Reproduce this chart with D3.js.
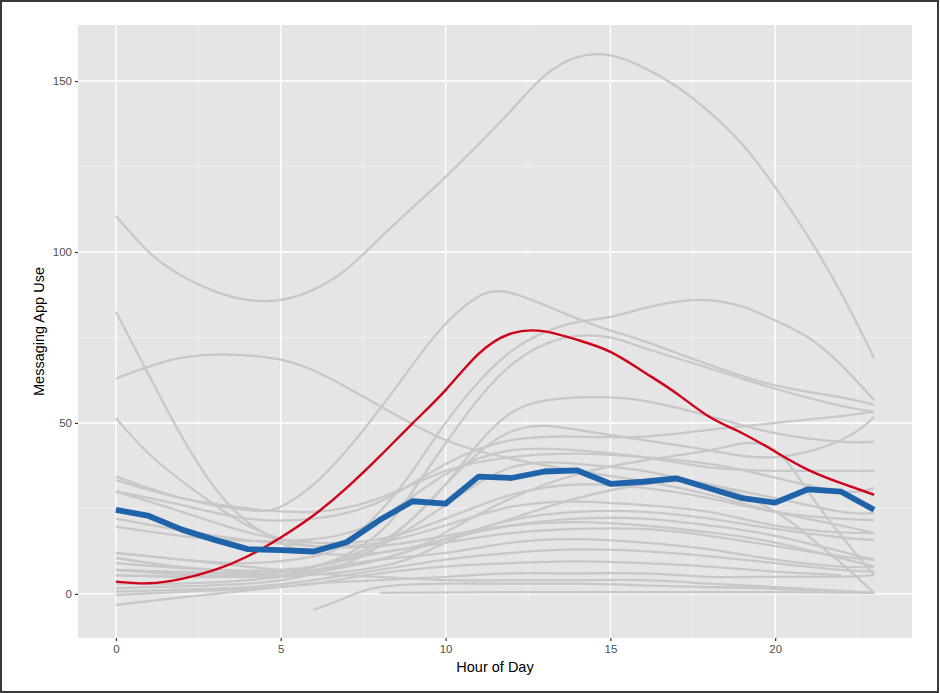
<!DOCTYPE html>
<html>
<head>
<meta charset="utf-8">
<script src="https://cdn.jsdelivr.net/npm/d3@7"></script>
<style>
  html, body { margin: 0; padding: 0; background: #fff; }
  svg { display: block; }
</style>
</head>
<body>
<svg id="chart" width="940" height="693"></svg>
<script>
// ---------------- data ----------------
const hours = d3.range(0, 24);
const meanUse = [24.6, 22.8, 18.8, 15.8, 13.1, 12.8, 12.4, 15.1, 21.6, 27.1, 26.4, 34.3,
                 33.9, 35.8, 36.1, 32.2, 32.8, 33.8, 30.9, 28.0, 26.7, 30.6, 29.9, 24.6];
const highlightUse = [3.6, 3.1, 4.4, 7.0, 11.0, 16.5, 23.0, 31.0, 40.2, 49.9, 59.6, 70.2,
                      76.2, 76.8, 74.3, 70.8, 65.0, 58.7, 51.8, 47.0, 41.6, 36.3, 32.4, 29.0];
// individual smoothed curves: [hour, value] knots
const individualUse = [
  [[0,110.5],[1,100],[2,93],[3,88.5],[4,86],[5,86],[6,89],[7,95],[8,104],[9,113],[10,122],[11,131.5],[12,141.5],[13,151.5],[14,157],[15,157.5],[16,154],[17,148.5],[18,141],[19,131.5],[20,119],[21,104.5],[22,88],[23,69]],
  [[0,82.5],[1,64],[2,46],[3,31],[4,21],[5,15],[6,12],[8,12],[10,16],[12,20],[14,22],[16,22],[18,20],[20,17],[23,10]],
  [[0,63],[1.5,68],[3,70],[5,68.5],[6.5,63],[8,55],[10,45],[12,39.5],[14,36],[16,33],[18,29],[20,24],[22,20],[23,17.8]],
  [[0,51.4],[1,41],[2,33],[3,26],[4,20],[5,16],[6,14],[8,14],[10,17],[12,20],[14,21],[16,20],[18,18],[20,15],[23,8]],
  [[0,34.3],[2,28],[4,24.5],[5,25.5],[6,32],[7,42],[8,54],[9,67],[10,79],[11,87],[11.5,88.5],[12,88],[13,84.5],[14,80.5],[15,77],[16,74],[18,67],[20,61],[22,57.5],[23,55.3]],
  [[0,12],[2,10],[4,9],[6,11],[7,15],[8,24],[9,36],[10,50],[11,62],[12,71],[13,76.5],[14,79.5],[15,81],[16,83.5],[17.6,86],[19,84],[20,80],[21,75],[22,67],[23,56.7]],
  [[0,7],[3,6],[6,8],[8,18],[9,30],[10,44],[11,57],[12,67],[13,73],[14,75.5],[15,75],[16,72],[18,66],[20,60],[22,55],[23,53.3]],
  [[0,5.5],[3,5],[6,8],[8,15],[9,22],[10,32],[11,44],[12,53],[13,56.5],[14,57.5],[15,57.5],[16,56.5],[18,52],[20,47],[22,44.5],[23,44.5]],
  [[0,1.7],[4,3],[6,6],[8,14],[10,32],[12,47.5],[14,48],[16,45],[18,42],[20,40],[22,45],[23,51.8]],
  [[0,30],[2,26],[4,22],[6,22],[8,27],[10,38],[12,45],[14,46],[16,46],[18,48],[20,50],[22,52],[23,53.3]],
  [[0,19.7],[3,16],[6,16],[8,22],[10,35],[12,42],[14,42],[16,40],[18,37],[20,36],[22,36],[23,36]],
  [[0,33.3],[2,28],[4,25],[6,24],[8,28],[10,36],[12,40],[14,41],[16,40],[18,38],[20,34],[22,30],[23,31]],
  [[0,10.5],[3,7],[6,8],[8,14],[10,26],[12,37],[14,38],[16,36],[18,32],[20,28],[22,24],[23,23.6]],
  [[0,29.9],[2,24],[4,18],[6,15],[8,16],[10,22],[12,29],[14,32],[16,31],[18,28],[20,24],[22,22],[23,21.6]],
  [[0,22],[3,17],[6,14],[8,15],[10,20],[12,25.5],[14,27],[16,26],[18,24],[20,20],[22,18],[23,17.8]],
  [[0,9],[3,7],[6,7],[8,10],[10,16],[12,21.6],[14,24],[16,24],[18,22],[20,19],[22,16.5],[23,15.8]],
  [[0,7],[4,6],[6,8],[8,12],[10,15],[12,17.8],[14,19],[16,19],[18,17],[20,14],[22,11],[23,10]],
  [[0,5.5],[4,5],[6,7],[8,10],[10,12],[12,15],[14,16],[16,15],[18,13],[20,10],[22,8],[23,8]],
  [[0,0.7],[4,2],[6,4],[8,7],[10,10],[12,12],[14,13],[16,12.5],[18,11],[20,9],[22,7],[23,6.5]],
  [[0,-0.3],[4,1.5],[6,3],[8,6],[10,8],[12,9],[14,9.5],[16,9],[18,8],[20,6.5],[22,5.5]],
  [[0,-3.2],[2,-1],[4,1],[6,3],[8,4],[10,5],[12,6],[14,6],[16,6],[18,5],[20,5],[22,5],[23,5.5]],
  [[6,-4.7],[7,-1],[8,2],[10,3],[12,3],[14,3],[16,2.5],[18,2],[20,1.5],[23,0.3]],
  [[8,0.3],[12,0.5],[16,0.5],[20,0.5],[23,0.3]],
  [[0,12],[3,9],[6,6],[8,5],[10,4],[12,4],[14,4],[16,4],[18,3],[20,2],[23,0.3]],
  [[0,3],[4,4],[8,10],[10,18],[12,28],[14,35],[16,39],[18,42],[19,44],[20,42],[21,30],[22,17],[23,5.5]],
  [[0,7],[4,5],[8,8],[10,15],[12,22],[14,28],[16,32],[18,32],[20,24],[21,17],[22,9],[23,0.3]]
];
const xTicks = [0, 5, 10, 15, 20];
const yTicks = [0, 50, 100, 150];
const xMinor = [2.5, 7.5, 12.5, 17.5, 22.5];
const yMinor = [25, 75, 125];

// ---------------- layout ----------------
const svg = d3.select("#chart");
const panel = { left: 78, top: 25, right: 912, bottom: 638 };

const x = d3.scaleLinear().domain([-1.15, 24.15]).range([panel.left, panel.right]);
const y = d3.scaleLinear().domain([-12.9, 166.4]).range([panel.bottom, panel.top]);

// outer border
svg.append("rect")
  .attr("x", 1).attr("y", 1).attr("width", 937).attr("height", 691)
  .attr("fill", "#fff").attr("stroke", "#3a3a3a").attr("stroke-width", 2);

// panel background
svg.append("rect")
  .attr("x", panel.left).attr("y", panel.top)
  .attr("width", panel.right - panel.left).attr("height", panel.bottom - panel.top)
  .attr("fill", "#e5e5e5");

// grid
const grid = svg.append("g");
grid.selectAll(".ymin").data(yMinor).enter().append("line")
  .attr("x1", panel.left).attr("x2", panel.right)
  .attr("y1", d => y(d)).attr("y2", d => y(d))
  .attr("stroke", "#f4f4f4").attr("stroke-width", 0.7);
grid.selectAll(".xmin").data(xMinor).enter().append("line")
  .attr("y1", panel.top).attr("y2", panel.bottom)
  .attr("x1", d => x(d)).attr("x2", d => x(d))
  .attr("stroke", "#f4f4f4").attr("stroke-width", 0.7);
grid.selectAll(".ymaj").data(yTicks).enter().append("line")
  .attr("x1", panel.left).attr("x2", panel.right)
  .attr("y1", d => y(d)).attr("y2", d => y(d))
  .attr("stroke", "#ffffff").attr("stroke-width", 1.4);
grid.selectAll(".xmaj").data(xTicks).enter().append("line")
  .attr("y1", panel.top).attr("y2", panel.bottom)
  .attr("x1", d => x(d)).attr("x2", d => x(d))
  .attr("stroke", "#ffffff").attr("stroke-width", 1.4);

// lines
const smooth = d3.line().x(d => x(d[0])).y(d => y(d[1])).curve(d3.curveNatural);
svg.append("g").selectAll("path").data(individualUse).enter().append("path")
  .attr("d", smooth)
  .attr("fill", "none").attr("stroke", "#c8c8c8").attr("stroke-width", 2.3)
  .attr("stroke-linecap", "butt");

svg.append("path")
  .datum(hours.map((h, i) => [h, highlightUse[i]]))
  .attr("d", smooth)
  .attr("fill", "none").attr("stroke", "#d0021b").attr("stroke-width", 2.4);

const straight = d3.line().x(d => x(d[0])).y(d => y(d[1]));
svg.append("path")
  .datum(hours.map((h, i) => [h, meanUse[i]]))
  .attr("d", straight)
  .attr("fill", "none").attr("stroke", "#1f63ab").attr("stroke-width", 5.8)
  .attr("stroke-linejoin", "round");

// axes
const font = "'Liberation Sans', Arial, sans-serif";
const yAxis = svg.append("g").attr("transform", `translate(${panel.left},0)`)
  .call(d3.axisLeft(y).tickValues(yTicks).tickSize(3).tickPadding(3).tickFormat(d3.format("d")));
const xAxis = svg.append("g").attr("transform", `translate(0,${panel.bottom})`)
  .call(d3.axisBottom(x).tickValues(xTicks).tickSize(3).tickPadding(4).tickFormat(d3.format("d")));
[xAxis, yAxis].forEach(a => {
  a.select(".domain").remove();
  a.selectAll(".tick line").attr("stroke", "#333").attr("stroke-width", 1.2);
  a.selectAll(".tick text").attr("fill", "#4d4d4d").style("font-family", font).style("font-size", "11.5px");
});

svg.append("text")
  .attr("x", (panel.left + panel.right) / 2).attr("y", 672)
  .attr("text-anchor", "middle")
  .style("font-family", font).style("font-size", "14.5px").attr("fill", "#000")
  .text("Hour of Day");

svg.append("text")
  .attr("transform", `translate(44,${(panel.top + panel.bottom) / 2}) rotate(-90)`)
  .attr("text-anchor", "middle")
  .style("font-family", font).style("font-size", "14.5px").attr("fill", "#000")
  .text("Messaging App Use");
</script>
</body>
</html>
